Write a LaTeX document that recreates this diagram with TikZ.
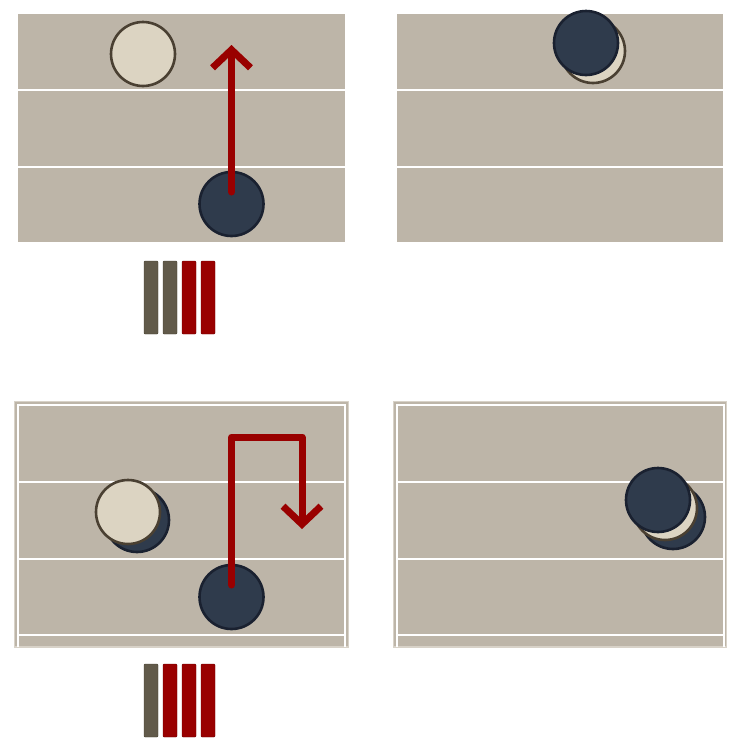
\documentclass[tikz,border=0pt]{standalone}
\usetikzlibrary{arrows.meta}
\definecolor{felt}{HTML}{BDB5A8}
\definecolor{feltedge}{HTML}{D8D2C8}
\definecolor{lite}{HTML}{DCD4C2}
\definecolor{liteedge}{HTML}{4A4032}
\definecolor{dark}{HTML}{2F3B4C}
\definecolor{darkedge}{HTML}{1A2130}
\definecolor{move}{HTML}{990000}
\definecolor{moveedge}{HTML}{6E0000}
\definecolor{rest}{HTML}{615A4A}
\definecolor{restedge}{HTML}{45402F}
\tikzset{
  stone/.style={circle, minimum size=64pt, inner sep=0pt, line width=2.6pt},
  litestone/.style={stone, fill=lite, draw=liteedge},
  darkstone/.style={stone, fill=dark, draw=darkedge},
  lane/.style={white, line width=2pt},
  path/.style={move, line width=7pt, line cap=round, line join=round}
}
\begin{document}
\begin{tikzpicture}[x=1pt, y=-1pt, >={Straight Barb[length=18pt, width=38pt]}]
  \useasboundingbox (0,0) rectangle (744,742);
  % plateau haut gauche
  \fill[felt] (18,14) rectangle (345,242);
  \draw[lane] (18,90) -- (345,90);
  \draw[lane] (18,167) -- (345,167);
  \node[litestone] (hg) at (143,54) {};
  \node[darkstone] (ng) at (231.5,204) {};
  \coordinate (hgbut) at (231.5,45);
  \draw[path, ->] ([yshift=12pt]ng.center) -- (hgbut);
  % plateau haut droite
  \fill[felt] (397,14) rectangle (723,242);
  \draw[lane] (397,90) -- (723,90);
  \draw[lane] (397,167) -- (723,167);
  \node[litestone] (hd) at (593,51) {};
  \node[darkstone] (nd) at (586,43) {};
  % compteur haut
  \filldraw[rest, draw=restedge, rounded corners=1pt] (144,261) rectangle (158,334);
  \filldraw[rest, draw=restedge, rounded corners=1pt] (163,261) rectangle (177,334);
  \filldraw[move, draw=moveedge, rounded corners=1pt] (182,261) rectangle (196,334);
  \filldraw[move, draw=moveedge, rounded corners=1pt] (201,261) rectangle (215,334);
  % plateau bas gauche
  \filldraw[felt, draw=feltedge, line width=1.5pt] (14.5,401.5) -- (14.5,647) -- (348.5,647) -- (348.5,401.5) -- cycle;
  \draw[lane] (18,647) -- (18,405) -- (345,405) -- (345,647);
  \draw[lane] (18,482) -- (345,482);
  \draw[lane] (18,559) -- (345,559);
  \draw[lane] (18,635) -- (345,635);
  \node[darkstone] (bgn) at (137,520) {};
  \node[litestone] (bgh) at (128,512) {};
  \node[darkstone] (bgm) at (231.5,597) {};
  \coordinate (coin) at (231.5,437);
  \coordinate (coin2) at (302,437);
  \coordinate (bgbut) at (302,529);
  \draw[path, ->] ([yshift=12pt]bgm.center) -- (coin) -- (coin2) -- (bgbut);
  % plateau bas droite
  \filldraw[felt, draw=feltedge, line width=1.5pt] (393.5,401.5) -- (393.5,647) -- (726.5,647) -- (726.5,401.5) -- cycle;
  \draw[lane] (397,647) -- (397,405) -- (724,405) -- (724,647);
  \draw[lane] (397,482) -- (724,482);
  \draw[lane] (397,559) -- (724,559);
  \draw[lane] (397,635) -- (724,635);
  \node[darkstone] (bdn) at (673,517) {};
  \node[litestone] (bdh) at (665,508) {};
  \node[darkstone] (bdm) at (658,500) {};
  % compteur bas
  \filldraw[rest, draw=restedge, rounded corners=1pt] (144,664) rectangle (158,737);
  \filldraw[move, draw=moveedge, rounded corners=1pt] (163,664) rectangle (177,737);
  \filldraw[move, draw=moveedge, rounded corners=1pt] (182,664) rectangle (196,737);
  \filldraw[move, draw=moveedge, rounded corners=1pt] (201,664) rectangle (215,737);
\end{tikzpicture}
\end{document}
